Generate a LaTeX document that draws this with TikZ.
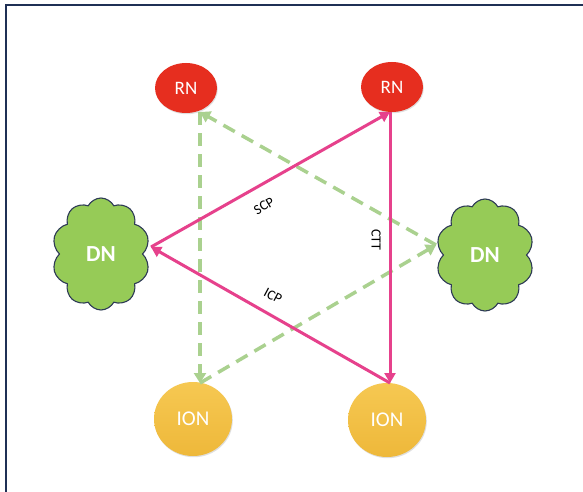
\documentclass[tikz,border=0pt]{standalone}
\usepackage{fontspec}
\setmainfont{Carlito}
\usetikzlibrary{shapes.symbols,shapes.geometric,arrows.meta,shadows}
\definecolor{navy}{HTML}{1F3055}
\definecolor{rnred}{HTML}{E62E1F}
\definecolor{ionbot}{HTML}{EEB83A}
\definecolor{iontop}{HTML}{F6C852}
\definecolor{dngreen}{HTML}{96CB57}
\definecolor{dnedge}{HTML}{2E3B56}
\definecolor{pinkl}{HTML}{E6418C}
\definecolor{greenl}{HTML}{AAD18F}
\tikzset{
  rnnode/.style={ellipse, fill=rnred, minimum width=62pt, minimum height=50pt, inner sep=0pt,
     text=white, font=\fontsize{19}{19}\selectfont, drop shadow={shadow xshift=0.8pt, shadow yshift=-1.2pt, opacity=0.25}},
  ionnode/.style={ellipse, top color=iontop, bottom color=ionbot, minimum width=78pt, minimum height=74pt, inner sep=0pt,
     text=white, font=\fontsize{21}{21}\selectfont, drop shadow={shadow xshift=0.8pt, shadow yshift=-1.2pt, opacity=0.25}},
  dnnode/.style={cloud, cloud puffs=10, cloud puff arc=125, cloud ignores aspect, draw=dnedge, line width=1.1pt,
     fill=dngreen, minimum width=98pt, minimum height=112pt, inner sep=0pt,
     text=white, font=\bfseries\fontsize{23}{23}\selectfont},
  pinkarrow/.style={draw=pinkl, line width=3pt, -{Triangle[length=10pt,width=11pt]}},
  greenarrow/.style={draw=greenl, line width=3.5pt, dash pattern=on 13pt off 8pt, -{Triangle[length=10pt,width=12pt]}},
  lbl/.style={font=\fontsize{14}{14}\selectfont, text=black, inner sep=1pt}
}
\begin{document}
\begin{tikzpicture}[x=1pt,y=-1pt]
\useasboundingbox (0,0) rectangle (583,492);
\fill[white] (0,0) rectangle (583,492);
\draw[navy, line width=2.5pt] (6,492) -- (6,5) -- (583,5);

\node[rnnode] (rn1) at (186,88) {RN};
\node[rnnode] (rn2) at (392,87) {RN};
\node[dnnode] (dn1) at (101,254) {DN};
\node[dnnode] (dn2) at (485,255) {DN};
\node[ionnode] (ion1) at (193,419) {ION};
\node[ionnode] (ion2) at (387,420) {ION};

\coordinate (rn1b) at (200,112);
\coordinate (rn2b) at (390,112);
\coordinate (dn1r) at (151,247);
\coordinate (dn2l) at (436,245);
\coordinate (ion1t) at (200,383);
\coordinate (ion2t) at (390,383);

% green dashed
\draw[greenarrow] (rn1b) -- (ion1t);
\draw[greenarrow] (dn2l) -- (rn1b);
\draw[greenarrow] (ion1t) -- (dn2l);

% pink solid
\draw[pinkarrow] (dn1r) -- (rn2b);
\draw[pinkarrow] (rn2b) -- (ion2t);
\draw[pinkarrow] (ion2t) -- (dn1r);

\node[lbl, rotate=30] (scp) at (264,206) {SCP};
\node[lbl, rotate=-90] (ctt) at (376,240) {CTT};
\node[lbl, rotate=-28] (icp) at (273,296) {ICP};
\end{tikzpicture}
\end{document}
